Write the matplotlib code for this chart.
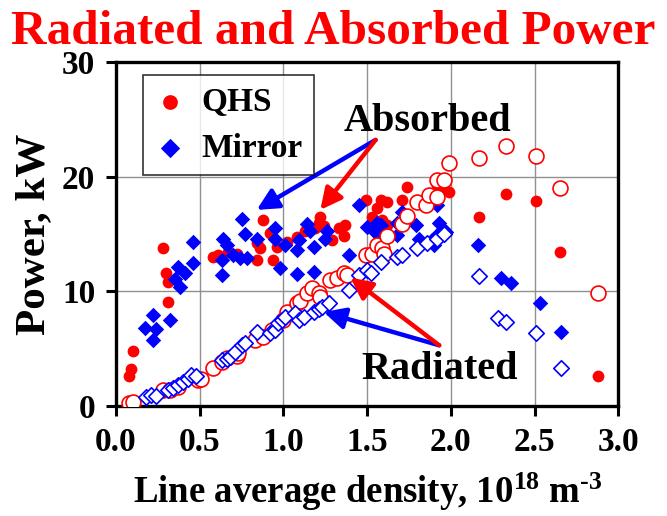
import matplotlib
matplotlib.use('Agg')
import matplotlib.pyplot as plt

plt.rcParams['font.family'] = ['Liberation Serif', 'DejaVu Serif']
plt.rcParams['font.weight'] = 'bold'
plt.rcParams['mathtext.fontset'] = 'custom'
plt.rcParams['mathtext.rm'] = 'Liberation Serif:bold'
plt.rcParams['mathtext.bf'] = 'Liberation Serif:bold'
plt.rcParams['mathtext.default'] = 'rm'

# QHS absorbed power (filled circles)
qhs_abs_x = [0.08, 0.09, 0.10, 0.28, 0.30, 0.31, 0.31, 0.58, 0.61, 0.67, 0.72, 0.84, 0.84,
             0.86, 0.88, 0.92, 0.94, 0.96, 1.02, 1.08, 1.13, 1.19, 1.21, 1.22, 1.24, 1.29,
             1.33, 1.36, 1.37, 1.49, 1.53, 1.53, 1.56, 1.58, 1.59, 1.62, 1.62, 1.71, 1.74,
             1.92, 1.95, 1.99, 2.17, 2.33, 2.51, 2.65, 2.88]
qhs_abs_y = [2.6, 3.2, 4.8, 13.8, 11.6, 10.8, 9.1, 13.0, 13.2, 13.4, 13.3, 12.7, 14.2,
             13.8, 16.2, 15.1, 12.7, 13.9, 14.3, 14.7, 15.3, 15.5, 16.0, 16.5, 15.7, 14.5,
             15.5, 14.8, 15.8, 18.0, 16.5, 15.6, 17.3, 18.0, 16.2, 17.8, 15.8, 18.0, 19.1,
             19.3, 18.9, 18.7, 16.5, 18.5, 17.9, 13.4, 2.6]

# QHS radiated power (open circles)
qhs_rad_x = [0.08, 0.10, 0.28, 0.32, 0.37, 0.49, 0.51, 0.58, 0.63, 0.66, 0.72, 0.73, 0.83,
             0.88, 0.93, 1.00, 1.02, 1.08, 1.10, 1.14, 1.17, 1.21, 1.22, 1.28, 1.32, 1.36,
             1.38, 1.49, 1.53, 1.56, 1.59, 1.60, 1.62, 1.71, 1.74, 1.80, 1.85, 1.87, 1.92,
             1.92, 1.96, 1.99, 2.17, 2.33, 2.51, 2.65, 2.88]
qhs_rad_y = [0.26, 0.35, 1.4, 1.4, 1.7, 2.3, 2.4, 3.3, 3.8, 4.2, 4.4, 4.6, 5.8,
             6.0, 6.6, 7.5, 8.2, 9.0, 9.2, 9.9, 10.3, 9.9, 9.5, 11.0, 11.2, 11.6,
             11.4, 13.2, 13.3, 14.0, 13.8, 13.3, 14.8, 15.9, 16.6, 17.8, 17.5, 18.4, 18.2,
             19.7, 19.7, 21.2, 21.6, 22.7, 21.8, 19.0, 9.9]

# Mirror absorbed power (filled diamonds)
mir_abs_x = [0.17, 0.22, 0.24, 0.22, 0.32, 0.35, 0.37, 0.38, 0.41, 0.46, 0.46, 0.63, 0.63,
             0.64, 0.66, 0.70, 0.74, 0.78, 0.75, 0.77, 0.84, 0.95, 0.95, 0.98, 1.01, 1.08,
             1.08, 1.09, 1.14, 1.16, 1.18, 1.18, 1.25, 1.26, 1.39, 1.45, 1.50, 1.55, 1.56,
             1.58, 1.68, 1.68, 1.71, 1.79, 1.81, 1.89, 1.90, 1.92, 1.92, 1.93, 1.95, 1.97,
             2.16, 2.30, 2.36, 2.53, 2.66]
mir_abs_y = [6.8, 7.9, 6.7, 5.8, 7.5, 11.1, 12.1, 10.4, 11.6, 12.5, 14.3, 11.4, 12.7,
             14.6, 14.0, 13.2, 12.9, 12.9, 16.3, 15.0, 14.6, 15.5, 14.6, 12.0, 14.0, 11.5,
             13.6, 14.5, 15.9, 15.3, 13.9, 11.7, 14.6, 15.3, 13.2, 17.5, 15.6, 15.1, 16.0,
             15.8, 16.0, 14.9, 16.9, 15.8, 14.6, 14.5, 14.0, 17.5, 14.9, 16.0, 15.4, 15.2,
             14.0, 11.2, 10.7, 9.0, 6.5]

# Mirror radiated power (open diamonds)
mir_rad_x = [0.18, 0.21, 0.24, 0.31, 0.34, 0.37, 0.40, 0.43, 0.45, 0.48, 0.63, 0.66, 0.68,
             0.71, 0.75, 0.77, 0.84, 0.92, 0.95, 0.97, 0.99, 1.01, 1.07, 1.09, 1.12, 1.18,
             1.21, 1.23, 1.27, 1.39, 1.45, 1.50, 1.52, 1.58, 1.68, 1.71, 1.80, 1.86, 1.92,
             1.96, 2.17, 2.28, 2.33, 2.51, 2.66]
mir_rad_y = [0.8, 0.96, 0.9, 1.4, 1.6, 1.8, 2.1, 2.4, 2.7, 2.6, 4.0, 4.1, 4.3,
             4.7, 5.3, 5.5, 6.5, 6.4, 6.6, 7.2, 7.5, 7.8, 8.1, 7.5, 7.8, 8.2,
             8.5, 8.6, 9.0, 10.1, 11.4, 11.9, 11.6, 12.6, 13.0, 13.2, 13.8, 14.2, 14.6,
             15.0, 11.3, 7.7, 7.3, 6.4, 3.3]

x_ticks = [0.0, 0.5, 1.0, 1.5, 2.0, 2.5, 3.0]
y_ticks = [0, 10, 20, 30]

fig = plt.figure(figsize=(6.67, 5.16), dpi=100)
ax = fig.add_axes([0.174, 0.213, 0.753, 0.667])

ax.scatter(qhs_abs_x, qhs_abs_y, s=72, marker='o', color='#ff0000', lw=0, zorder=3, label='QHS')
ax.scatter(mir_abs_x, mir_abs_y, s=62, marker='D', color='#0000ff', lw=0, zorder=3, label='Mirror')
ax.scatter(qhs_rad_x, qhs_rad_y, s=115, marker='o', facecolors='white', edgecolors='#ff0000',
           lw=1.2, zorder=4)
ax.scatter(mir_rad_x, mir_rad_y, s=62, marker='D', facecolors='white', edgecolors='#0000ff',
           lw=1.2, zorder=4)

ax.set_xlim(0, 3)
ax.set_ylim(0, 30)
ax.set_xticks(x_ticks)
ax.set_xticklabels([f'{v:.1f}' for v in x_ticks])
ax.set_yticks(y_ticks)
ax.grid(True, color='#909090', lw=1.0, zorder=0)
ax.set_axisbelow(True)
for sp in ax.spines.values():
    sp.set_linewidth(2.4)
ax.tick_params(axis='both', labelsize=24, width=2.2, length=7, pad=8, direction='out')
ax.tick_params(top=False, right=False)

ax.set_xlabel('Line average density, 10$^{18}$ m$^{\\text{-}3}$', fontsize=26.5,
              fontweight='bold', labelpad=9)
ax.set_ylabel('Power, kW', fontsize=31, fontweight='bold', labelpad=6)
fig.text(0.5, 0.938, 'Radiated and Absorbed Power', color='#ff0000', fontsize=35.5,
         fontweight='bold', ha='center', va='center')

leg = ax.legend(loc='upper left', bbox_to_anchor=(0.054, 0.962), borderaxespad=0,
                fontsize=24, frameon=True, fancybox=False, edgecolor='black',
                handlelength=0.9, handletextpad=0.5, borderpad=0.35, labelspacing=0.45,
                markerscale=1.25)
leg.get_frame().set_linewidth(1.2)

arrow_kw = dict(arrowstyle='-|>', lw=3.2, mutation_scale=32, shrinkA=0, shrinkB=0)
ax.text(1.86, 24.8, 'Absorbed', fontsize=29, fontweight='bold', ha='center', va='center')
ax.annotate('', xy=(0.84, 17.1), xytext=(1.55, 23.2),
            arrowprops=dict(color='#0000ff', **arrow_kw), zorder=5)
ax.annotate('', xy=(1.22, 17.1), xytext=(1.55, 23.2),
            arrowprops=dict(color='#ff0000', **arrow_kw), zorder=5)

ax.text(1.93, 3.2, 'Radiated', fontsize=29, fontweight='bold', ha='center', va='center')
ax.annotate('', xy=(1.24, 8.2), xytext=(1.93, 5.3),
            arrowprops=dict(color='#0000ff', **arrow_kw), zorder=5)
ax.annotate('', xy=(1.40, 11.2), xytext=(1.93, 5.3),
            arrowprops=dict(color='#ff0000', **arrow_kw), zorder=5)

fig.savefig('out.png', dpi=100)
